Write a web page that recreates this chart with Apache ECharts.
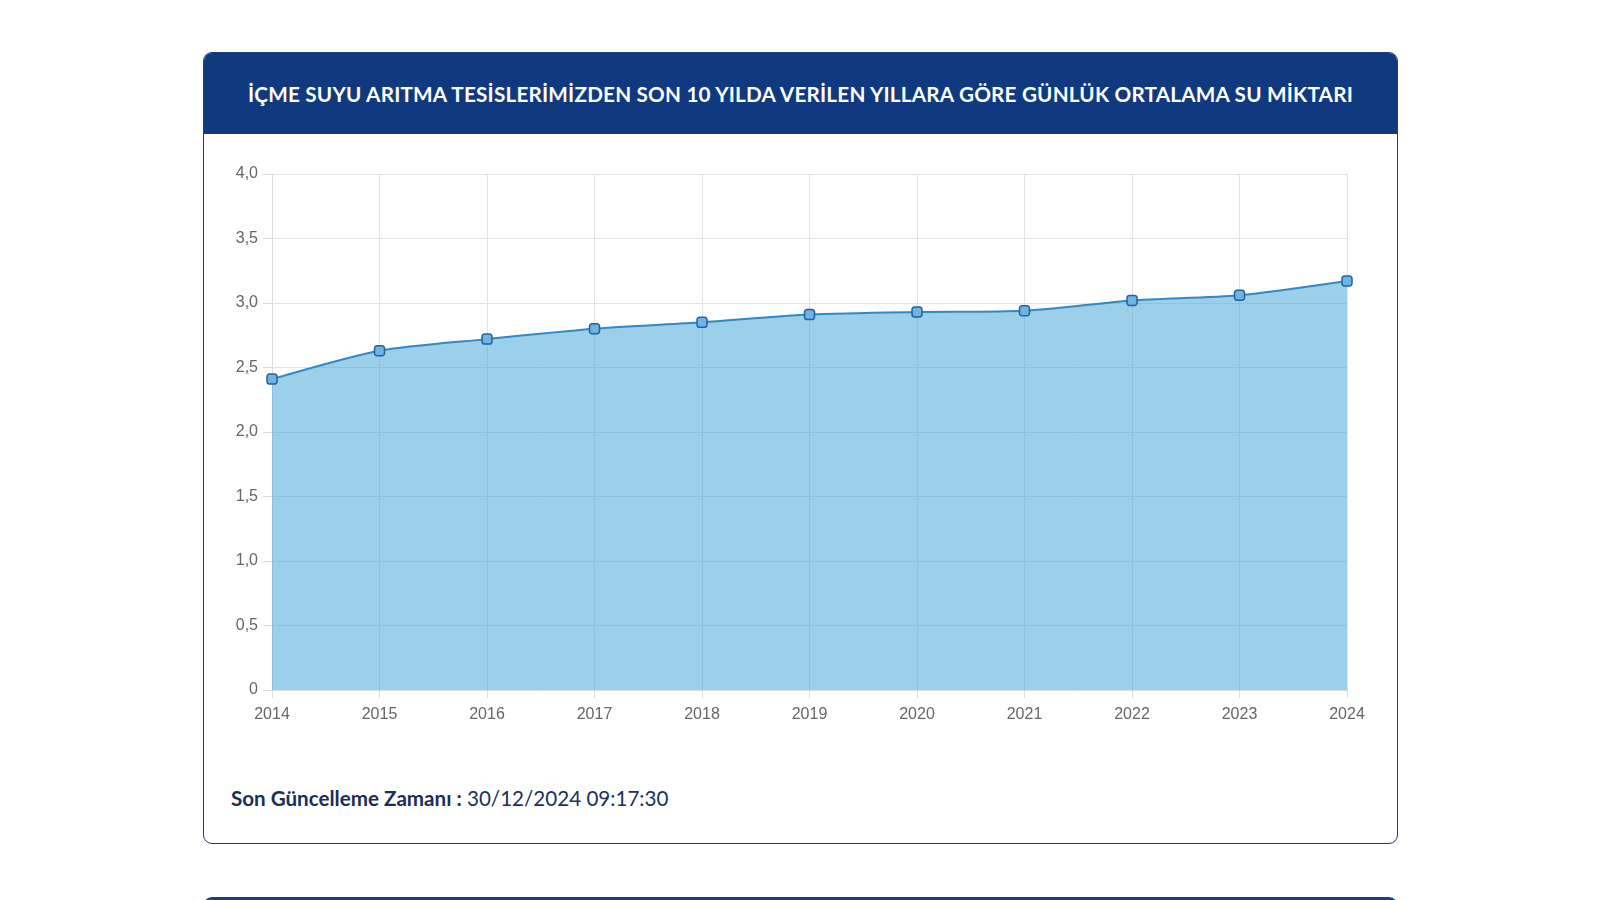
<!DOCTYPE html>
<html>
<head>
<meta charset="utf-8">
<script src="https://cdn.jsdelivr.net/npm/echarts@6/dist/echarts.min.js"></script>
<style>
html,body{margin:0;padding:0;background:#fff;width:1600px;height:900px;overflow:hidden;}
.card{position:absolute;left:203px;top:52px;width:1195px;height:792px;border:1px solid #1b3f82;border-radius:9px;box-sizing:border-box;overflow:hidden;}
.hdr{position:absolute;left:0;top:0;right:0;height:81px;background:#11397f;color:#fff;font-family:Lato,"Noto Sans",sans-serif;font-weight:bold;font-size:20.7px;display:flex;align-items:center;justify-content:center;letter-spacing:0.2px;padding-top:0;box-sizing:border-box;}
.foot{position:absolute;left:231px;top:786px;font-family:Lato,"Noto Sans",sans-serif;font-size:20.6px;color:#1d2f5a;}
.foot b{font-weight:bold;color:#1a2d5c;}
.card2{position:absolute;left:203px;top:897px;width:1195px;height:40px;border-top:3px solid #1b3f82;border-radius:9px 9px 0 0;}
#chart{position:absolute;left:0;top:0;width:1600px;height:900px;}
</style>
</head>
<body>
<div class="card"><div class="hdr">İÇME SUYU ARITMA TESİSLERİMİZDEN SON 10 YILDA VERİLEN YILLARA GÖRE GÜNLÜK ORTALAMA SU MİKTARI</div></div>
<div class="foot"><b>Son Güncelleme Zamanı :</b> 30/12/2024 09:17:30</div>
<div class="card2"></div>
<div id="chart"></div>
<script>
const years = ['2014','2015','2016','2017','2018','2019','2020','2021','2022','2023','2024'];
const values = [2.41, 2.63, 2.72, 2.80, 2.85, 2.91, 2.93, 2.94, 3.02, 3.06, 3.17];
const yMin = 0, yMax = 4, yStep = 0.5;

const chart = echarts.init(document.getElementById('chart'), null, {renderer:'canvas'});
chart.setOption({
  backgroundColor:'transparent',
  animation:false,
  grid:{left:272, right:253, top:174, bottom:210},
  xAxis:{
    type:'category', data:years, boundaryGap:false,
    axisLine:{show:true, lineStyle:{color:'#dcdcdc'}},
    axisTick:{show:true, length:8, lineStyle:{color:'#dcdcdc'}},
    axisLabel:{color:'#666', fontSize:16, fontFamily:'Liberation Sans, Arial, sans-serif', margin:17},
    splitLine:{show:true, lineStyle:{color:'#e3e3e3'}}
  },
  yAxis:{
    type:'value', min:yMin, max:yMax, interval:yStep,
    axisLine:{show:true, lineStyle:{color:'#dcdcdc'}},
    axisTick:{show:true, length:9, lineStyle:{color:'#dcdcdc'}},
    axisLabel:{color:'#666', fontSize:16, fontFamily:'Liberation Sans, Arial, sans-serif', margin:14,
      formatter:v => v===0 ? '0' : v.toFixed(1).replace('.',',')},
    splitLine:{show:true, lineStyle:{color:'#e3e3e3'}}
  },
  series:[{
    type:'line', data:values, smooth:0.25,
    symbol:'roundRect', symbolSize:10,
    lineStyle:{color:'#2f89c4', width:2},
    itemStyle:{color:'#6db3e3', borderColor:'#23619f', borderWidth:1.5},
    areaStyle:{color:'rgba(56,160,214,0.5)', opacity:1, origin:'start'},
    z:1
  }]
});
</script>
</body>
</html>
